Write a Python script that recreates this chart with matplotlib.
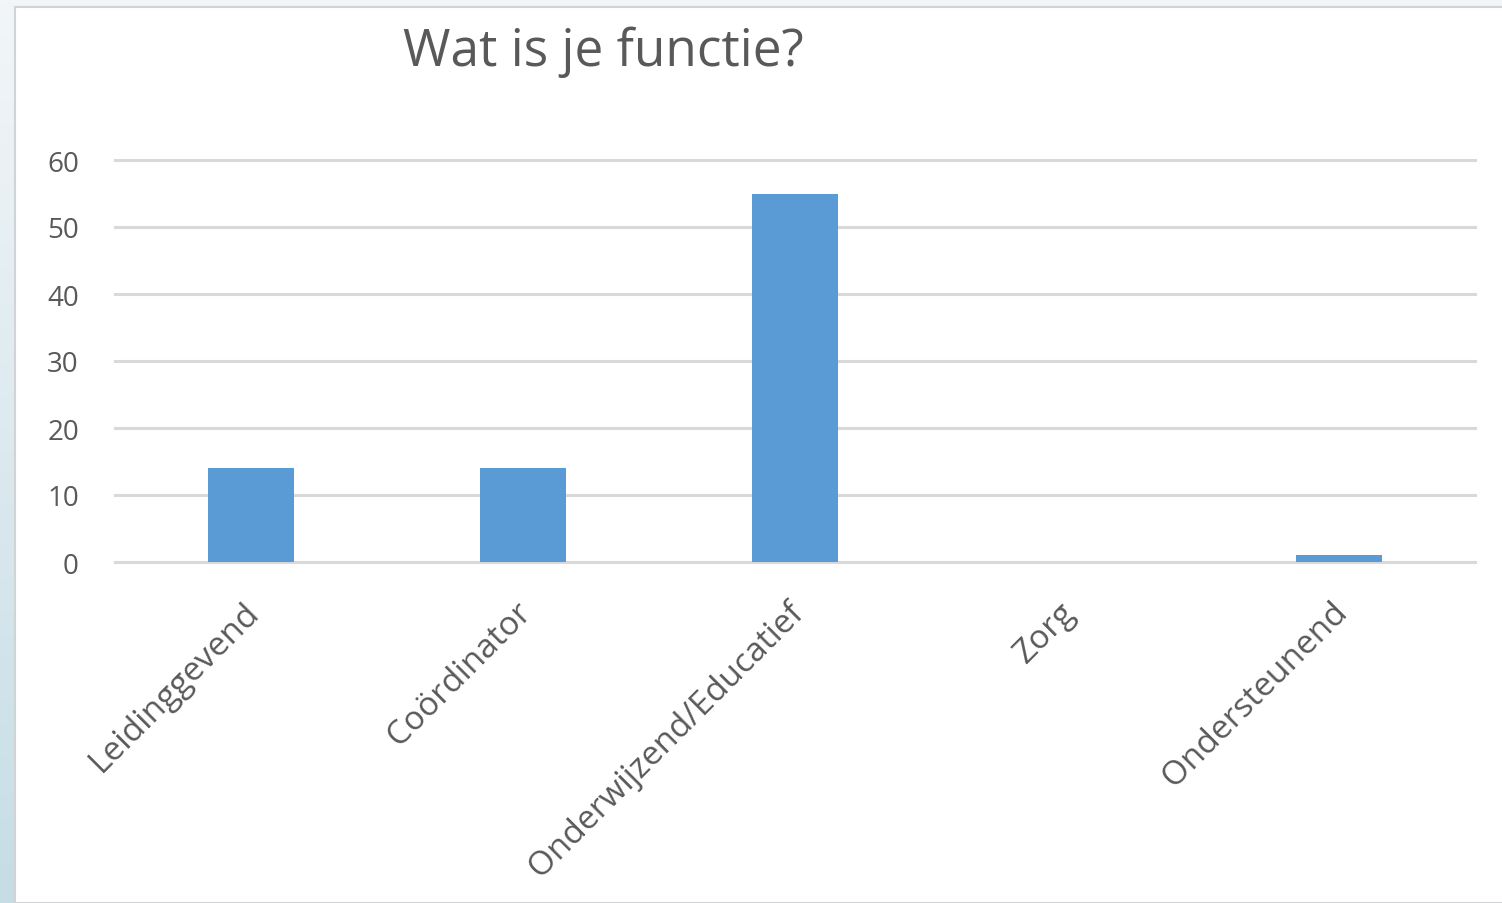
import numpy as np
import matplotlib.pyplot as plt
from matplotlib.patches import Rectangle
from matplotlib.colors import LinearSegmentedColormap
from matplotlib.transforms import ScaledTranslation

categories = ["Leidinggevend", "Coördinator", "Onderwijzend/Educatief", "Zorg", "Ondersteunend"]
counts = [14, 14, 55, 0, 1]
yticks = [0, 10, 20, 30, 40, 50, 60]

plt.rcParams['font.family'] = ['Open Sans', 'DejaVu Sans']

fig = plt.figure(figsize=(15.02, 9.04), dpi=100)

# slide background: light blue gradient behind the white chart panel
bg = fig.add_axes([0, 0, 1, 1], zorder=-2)
grad = np.linspace(0, 1, 256).reshape(-1, 1)
bg.imshow(grad, aspect='auto', extent=[0, 1, 0, 1], origin='upper',
          cmap=LinearSegmentedColormap.from_list('bgc', ['#f2f6f8', '#c6dde6']))
bg.set_xlim(0, 1)
bg.set_ylim(0, 1)
bg.axis('off')
bg.add_patch(Rectangle((15 / 1502, 0), 1, 1 - 8 / 904, facecolor='white',
                       edgecolor='#d0d4d6', linewidth=1.5))

ax = fig.add_axes([115 / 1502, 1 - 563 / 904, 1360 / 1502, (563 - 161) / 904])
ax.patch.set_alpha(0)
x = np.arange(len(categories))
ax.bar(x, counts, width=0.315, color='#5b9bd5', zorder=3)
ax.set_xlim(-0.5, len(categories) - 0.5)
ax.set_ylim(0, 60)
ax.set_yticks(yticks)
for t in yticks:
    ax.axhline(t, color='#d9d9d9', linewidth=2.2, zorder=1, clip_on=False)
for s in ax.spines.values():
    s.set_visible(False)
ax.tick_params(axis='both', length=0, labelcolor='#595959')
ax.tick_params(axis='y', pad=26, labelsize=20)
ax.set_xticks(x)
ax.set_xticklabels(categories, rotation=45, ha='right', rotation_mode='anchor')
ax.tick_params(axis='x', pad=24, labelsize=24)
shift = ScaledTranslation(-0.08, 0, fig.dpi_scale_trans)
for lbl in ax.get_xticklabels():
    lbl.set_transform(lbl.get_transform() + shift)

fig.text(603 / 1502, 1 - 52 / 904, "Wat is je functie?", ha='center', va='center',
         fontsize=37, color='#595959')

fig.savefig('out.png', dpi=100)
